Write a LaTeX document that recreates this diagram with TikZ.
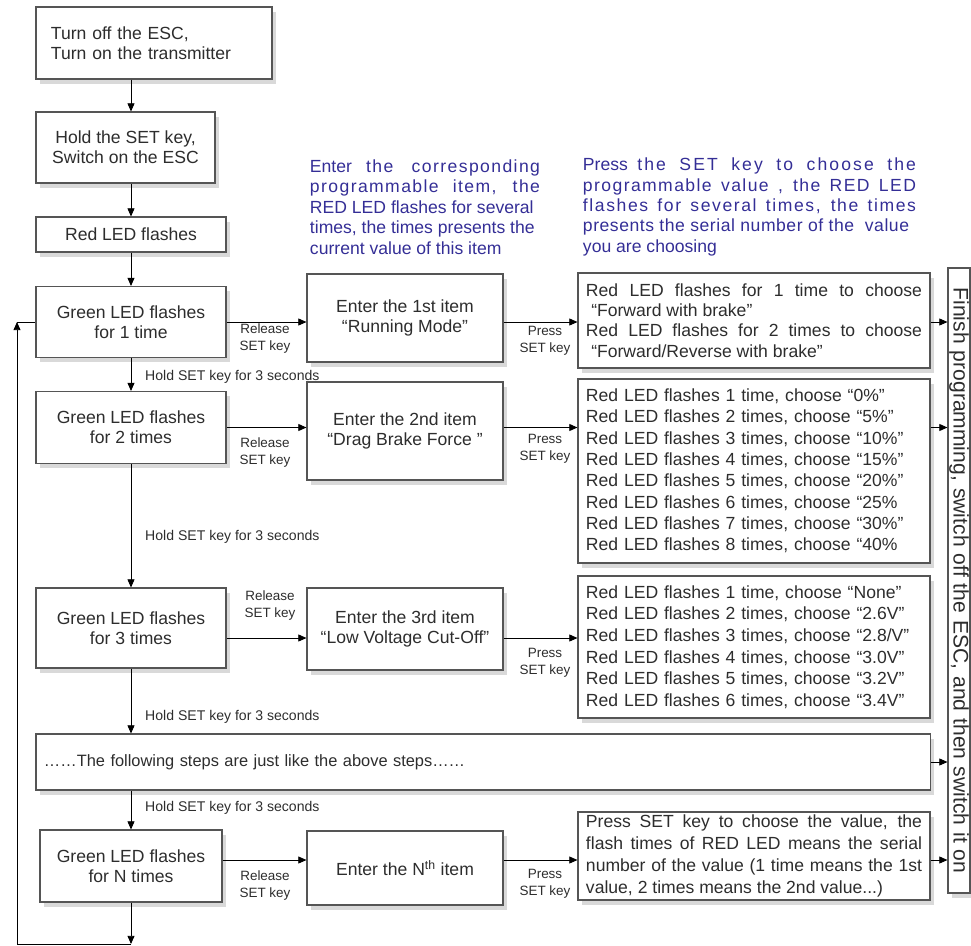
\documentclass[tikz,border=0pt]{standalone}
\usepackage{fontspec}
\setmainfont{Liberation Sans}
\usetikzlibrary{arrows.meta,positioning,calc,shadows}
\definecolor{boxline}{RGB}{85,85,85}
\definecolor{boxtext}{RGB}{45,45,45}
\definecolor{hintblue}{RGB}{52,46,150}
\newcommand{\trackd}[2]{{\addfontfeature{LetterSpace=#1}#2}}

\begin{document}
\begin{tikzpicture}[x=0.03cm, y=-0.03cm,
  box/.style={draw=boxline, line width=0.9pt, fill=white, text=boxtext, inner sep=0pt, align=center,
    font=\fontsize{15}{17}\selectfont,
    drop shadow={shadow xshift=3.5pt, shadow yshift=-4pt, fill=black, opacity=0.15}},
  valbox/.style={box, align=left, inner xsep=0.24cm, text width=10.08cm},
  lbl/.style={text=boxtext, inner sep=0pt, align=center, font=\fontsize{11.5}{14.5}\selectfont},
  hold/.style={lbl, anchor=west, font=\fontsize{12}{14}\selectfont},
  hint/.style={text=hintblue, inner sep=0pt, align=justify, font=\fontsize{15}{17.4}\selectfont},
  arr/.style={-{Triangle[length=7pt,width=6pt]}, line width=0.8pt, black}]
  \useasboundingbox (0,0) rectangle (971,946);

  % left column
  \node[box, text width=6.18cm, inner xsep=0.45cm, align=left, minimum height=2.16cm] (esc) at (154,43) {Turn off the ESC,\\Turn on the transmitter};
  \node[box, minimum width=5.37cm, minimum height=2.13cm] (hold) at (125.5,147.5) {Hold the SET key,\\Switch on the ESC};
  \node[box, minimum width=5.7cm, minimum height=1.05cm] (red) at (131,234.5) {Red LED flashes};
  \node[box, minimum width=5.7cm, minimum height=2.13cm] (g1) at (131,322) {Green LED flashes\\for 1 time};
  \node[box, minimum width=5.7cm, minimum height=2.16cm] (g2) at (131,427.5) {Green LED flashes\\for 2 times};
  \node[box, minimum width=5.7cm, minimum height=2.4cm] (g3) at (131,628) {Green LED flashes\\for 3 times};
  \node[box, minimum width=26.82cm, minimum height=1.68cm, text width=26.34cm, inner xsep=0.24cm, align=left, font=\fontsize{14}{16}\selectfont] (steps) at (483,762) {……The following steps are just like the above steps……};
  \node[box, minimum width=5.46cm, minimum height=2.16cm] (gn) at (131,866) {Green LED flashes\\for N times};

  % items
  \node[box, minimum width=5.88cm, minimum height=2.64cm] (i1) at (405,318) {Enter the 1st item\\“Running Mode”};
  \node[box, minimum width=5.88cm, minimum height=2.94cm] (i2) at (405,431) {Enter the 2nd item\\“Drag Brake Force ”};
  \node[box, minimum width=5.88cm, minimum height=2.46cm] (i3) at (405,629) {Enter the 3rd item\\“Low Voltage Cut-Off”};
  \node[box, minimum width=5.88cm, minimum height=2.22cm] (itemn) at (405,868) {Enter the N\textsuperscript{th} item};

  % values
  \node[valbox, align=justify, minimum height=2.85cm, font=\fontsize{15}{17.4}\selectfont] (v1) at (754,320.5) {Red LED flashes for 1 time to choose\linebreak
    \hspace*{0.3em}“Forward with brake”\\
    Red LED flashes for 2 times to choose\linebreak
    \hspace*{0.3em}“Forward/Reverse with brake”};
  \node[valbox, minimum height=5.52cm, font=\fontsize{15}{18.2}\selectfont] (v2) at (754,471) {Red LED flashes 1 time, choose “0\%”\\
    Red LED flashes 2 times, choose “5\%”\\
    Red LED flashes 3 times, choose “10\%”\\
    Red LED flashes 4 times, choose “15\%”\\
    Red LED flashes 5 times, choose “20\%”\\
    Red LED flashes 6 times, choose “25\%\\
    Red LED flashes 7 times, choose “30\%”\\
    Red LED flashes 8 times, choose “40\%};
  \node[valbox, minimum height=4.26cm, font=\fontsize{15}{18.4}\selectfont] (v3) at (754,647) {Red LED flashes 1 time, choose “None”\\
    Red LED flashes 2 times, choose “2.6V”\\
    Red LED flashes 3 times, choose “2.8/V”\\
    Red LED flashes 4 times, choose “3.0V”\\
    Red LED flashes 5 times, choose “3.2V”\\
    Red LED flashes 6 times, choose “3.4V”};
  \node[valbox, align=justify, minimum height=2.64cm, font=\fontsize{15}{18.7}\selectfont] (vn) at (754,856) {Press SET key to choose the value, the\linebreak
    flash times of RED LED means the serial\linebreak
    number of the value (1 time means the 1st\linebreak
    value, 2 times means the 2nd value...)};

  % finish
  \node[box, minimum width=0.66cm, minimum height=18.75cm] (fin) at (959,580.5) {};
  \node[rotate=-90, text=boxtext, inner sep=0pt, font=\fontsize{18}{20}\selectfont] (fintext) at (fin.center) {\makebox[500pt][s]{Finish programming, switch off the ESC, and then switch it on}};

  % blue notes
  \node[hint, text width=6.9cm] (itemnote) at (425,207) {Enter \trackd{8}{the corresponding}\linebreak
    \trackd{8}{programmable item, the}\linebreak
    RED LED flashes for several\\times, the times presents the\\current value of this item};
  \node[hint, text width=9.99cm] (valnote) at (749.5,207) {Press \trackd{12}{the SET key to choose the}\linebreak
    \trackd{8}{programmable value , the RED LED}\linebreak
    \trackd{9}{flashes for several times, the times}\linebreak
    \trackd{3}{presents the serial number of the~ value}\\you are choosing};

  % vertical flow
  \draw[arr] (esc.south -| red) -- (hold.north -| red);
  \draw[arr] (hold.south -| red) -- (red.north);
  \draw[arr] (red.south) -- (g1.north);
  \draw[arr] (g1.south) -- (g2.north);
  \draw[arr] (g2.south) -- (g3.north);
  \draw[arr] (g3.south) -- (g3.south |- steps.north);
  \draw[arr] (steps.south -| gn) -- (gn.north);

  \node[hold] (h1) at (145,377) {Hold SET key for 3 seconds};
  \node[hold] (h2) at (145,537) {Hold SET key for 3 seconds};
  \node[hold] (h3) at (145,717) {Hold SET key for 3 seconds};
  \node[hold] (h4) at (145,808) {Hold SET key for 3 seconds};

  % rows
  \coordinate (r3) at (0,638);
  \coordinate (rn) at (0,860);
  \draw[arr] (g1.east) -- (g1.east -| i1.west);
  \draw[arr] (i1.east |- g1.east) -- (g1.east -| v1.west);
  \draw[arr] (v1.east |- g1.east) -- (g1.east -| fin.west);
  \draw[arr] (g2.east) -- (g2.east -| i2.west);
  \draw[arr] (i2.east |- g2.east) -- (g2.east -| v2.west);
  \draw[arr] (v2.east |- g2.east) -- (g2.east -| fin.west);
  \draw[arr] (g3.east |- r3) -- (i3.west |- r3);
  \draw[arr] (i3.east |- r3) -- (v3.west |- r3);
  \draw[arr] (steps.east) -- (steps.east -| fin.west);
  \draw[arr] (gn.east |- rn) -- (itemn.west |- rn);
  \draw[arr] (itemn.east |- rn) -- (vn.west |- rn);
  \draw[arr] (vn.east |- rn) -- (fin.west |- rn);

  \node[lbl] (rel1) at (265,338.5) {Release\\SET key};
  \node[lbl] (pr1) at (545,340.5) {Press\\SET key};
  \node[lbl] (rel2) at (265,452.5) {Release\\SET key};
  \node[lbl] (pr2) at (545,448.5) {Press\\SET key};
  \node[lbl] (rel3) at (270,606) {Release\\SET key};
  \node[lbl] (pr3) at (545,663) {Press\\SET key};
  \node[lbl] (reln) at (265,886) {Release\\SET key};
  \node[lbl] (prn) at (545,884) {Press\\SET key};

  % back to the first item
  \coordinate (lb) at (17,944);
  \coordinate (lt) at (17,322);
  \draw[arr] (gn.south) -- (gn.south |- lb);
  \draw[arr] (gn.south |- lb) -- (lb) -- (lt);
  \draw[line width=0.8pt] (lt) -- (g1.west);
\end{tikzpicture}
\end{document}
